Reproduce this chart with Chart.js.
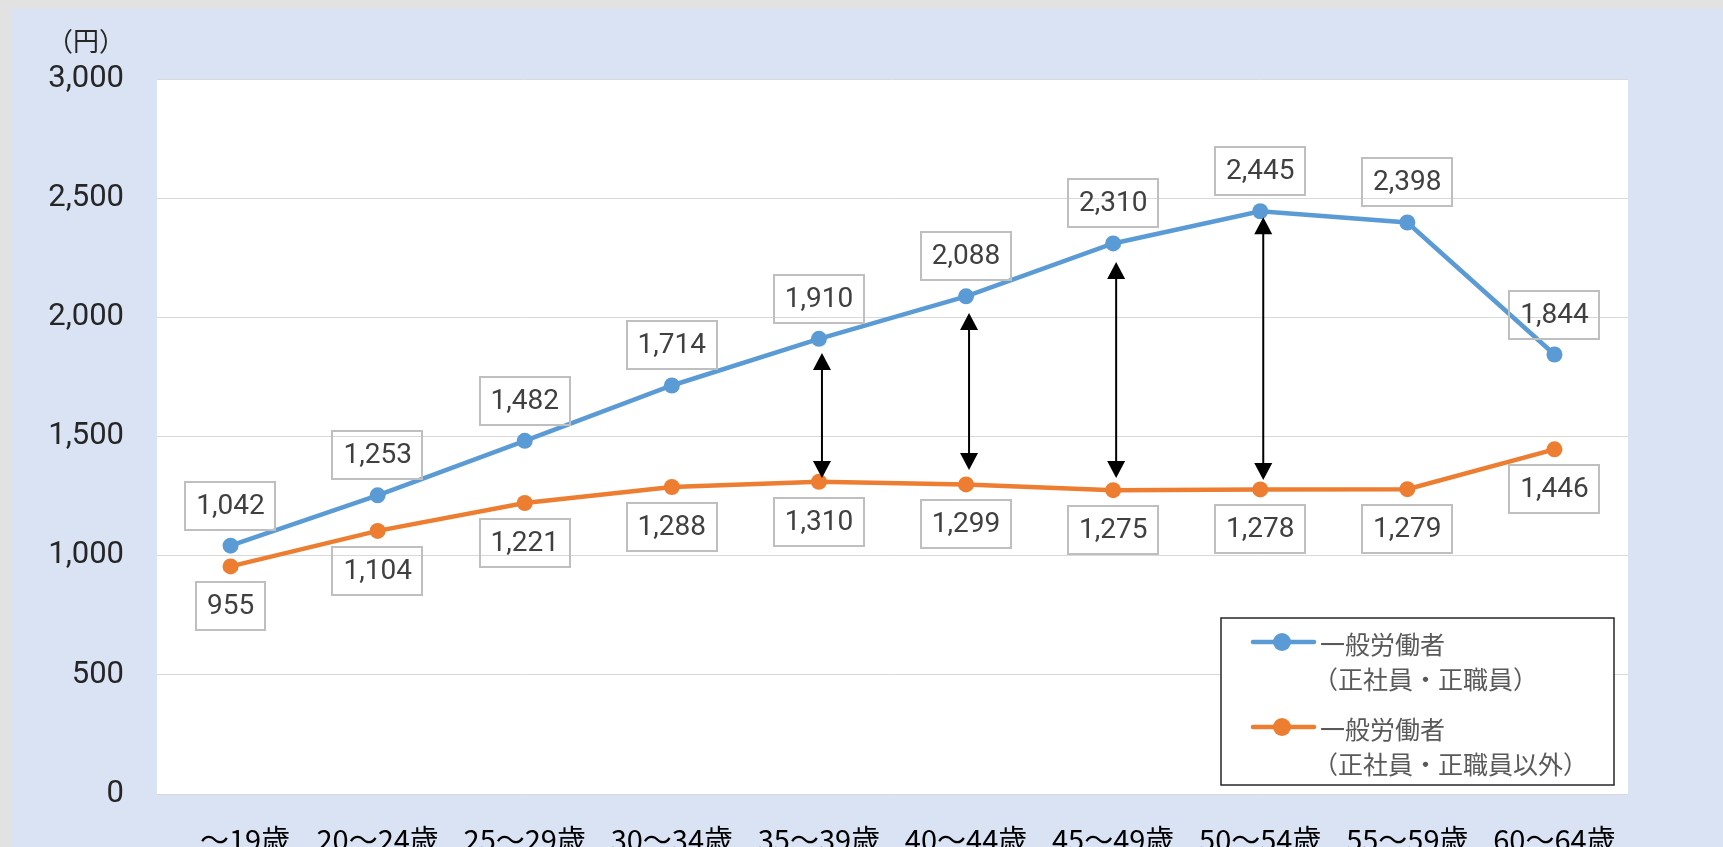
<!DOCTYPE html>
<html lang="ja">
<head>
<meta charset="utf-8">
<title>年齢階級別 賃金（時給換算）</title>
<script src="https://cdn.jsdelivr.net/npm/chart.js@4.4.1/dist/chart.umd.min.js"></script>
<style>
  html, body { margin: 0; padding: 0; background: #DAE3F3; }
  canvas { display: block; }
</style>
</head>
<body>
<canvas id="chart" width="1723" height="847"></canvas>
<script>
// 年齢階級（横軸）
const ageGroups = ['\u3000～19歳', '20～24歳', '25～29歳', '30～34歳', '35～39歳',
                   '40～44歳', '45～49歳', '50～54歳', '55～59歳', '60～64歳'];

// 一般労働者（正社員・正職員）
const regularWage = [1042, 1253, 1482, 1714, 1910, 2088, 2310, 2445, 2398, 1844];
// 一般労働者（正社員・正職員以外）
const nonRegularWage = [955, 1104, 1221, 1288, 1310, 1299, 1275, 1278, 1279, 1446];

// 系列名（凡例は2行表示）
const regularLabel = ['一般労働者', '（正社員・正職員）'];
const nonRegularLabel = ['一般労働者', '（正社員・正職員以外）'];

// 縦軸目盛
const yTicks = [0, 500, 1000, 1500, 2000, 2500, 3000];
const yUnit = '（円）';

// 賃金差を示す両矢印（対象の年齢階級と、上端・下端の値）
const gapIndex = [4, 5, 6, 7];
const gapTop = [1850, 2018, 2232, 2420];
const gapBottom = [1326, 1359, 1326, 1317];

const BLUE = '#5B9BD5';
const ORANGE = '#ED7D31';
const fmt = v => v.toLocaleString('en-US');

// 背景・プロットエリア
const backgroundPlugin = {
  id: 'panelBackground',
  beforeDraw(chart) {
    const { ctx, chartArea: a } = chart;
    ctx.save();
    ctx.fillStyle = '#E2E2E2';
    ctx.fillRect(0, 0, chart.width, chart.height);
    ctx.fillStyle = '#DAE3F3';
    ctx.fillRect(12, 9, chart.width - 12, chart.height - 9);
    ctx.fillStyle = '#FFFFFF';
    ctx.fillRect(a.left, a.top, a.right - a.left, a.bottom - a.top);
    ctx.restore();
  },
  afterDraw(chart) {
    const { ctx } = chart;
    ctx.save();
    ctx.fillStyle = '#262626';
    ctx.font = '26px "Noto Sans CJK JP"';
    ctx.textAlign = 'center';
    ctx.textBaseline = 'middle';
    ctx.fillText(yUnit, 86, 41);
    ctx.restore();
  }
};

// 両矢印
const gapArrowPlugin = {
  id: 'gapArrows',
  afterDatasetsDraw(chart) {
    const { ctx, scales: { x, y } } = chart;
    const headW = 18, headH = 17;
    ctx.save();
    ctx.fillStyle = '#000';
    ctx.strokeStyle = '#000';
    ctx.lineWidth = 2;
    gapIndex.forEach((idx, k) => {
      const px = x.getPixelForValue(idx) + 3;
      const yTop = y.getPixelForValue(gapTop[k]);
      const yBot = y.getPixelForValue(gapBottom[k]);
      ctx.beginPath();
      ctx.moveTo(px, yTop + headH - 1);
      ctx.lineTo(px, yBot - headH + 1);
      ctx.stroke();
      ctx.beginPath();
      ctx.moveTo(px, yTop);
      ctx.lineTo(px - headW / 2, yTop + headH);
      ctx.lineTo(px + headW / 2, yTop + headH);
      ctx.closePath();
      ctx.fill();
      ctx.beginPath();
      ctx.moveTo(px, yBot);
      ctx.lineTo(px - headW / 2, yBot - headH);
      ctx.lineTo(px + headW / 2, yBot - headH);
      ctx.closePath();
      ctx.fill();
    });
    ctx.restore();
  }
};

// 枠付きデータラベル（上の系列は点の上、下の系列は点の下）
const valueLabelPlugin = {
  id: 'valueLabels',
  afterDatasetsDraw(chart) {
    const { ctx } = chart;
    const boxH = 48, gap = 16, padX = 11;
    ctx.save();
    ctx.font = '28px Roboto';
    ctx.textAlign = 'center';
    ctx.textBaseline = 'middle';
    chart.data.datasets.forEach((ds, di) => {
      const meta = chart.getDatasetMeta(di);
      meta.data.forEach((pt, j) => {
        const text = fmt(ds.data[j]);
        const w = ctx.measureText(text).width + padX * 2;
        const cy = di === 0 ? pt.y - gap - boxH / 2 : pt.y + gap + boxH / 2;
        ctx.strokeStyle = '#BFBFBF';
        ctx.lineWidth = 2;
        ctx.strokeRect(Math.round(pt.x - w / 2), Math.round(cy - boxH / 2), Math.round(w), boxH);
        ctx.fillStyle = '#404040';
        ctx.fillText(text, pt.x, cy + 1);
      });
    });
    ctx.restore();
  }
};

// 凡例（枠付き・2行ラベル）
const legendBoxPlugin = {
  id: 'legendBox',
  afterDraw(chart) {
    const { ctx, chartArea: a } = chart;
    const w = 393, h = 167;
    const left = a.right - 14 - w, top = a.bottom - 9 - h;
    ctx.save();
    ctx.fillStyle = '#FFFFFF';
    ctx.fillRect(left, top, w, h);
    ctx.strokeStyle = '#262626';
    ctx.lineWidth = 1.5;
    ctx.strokeRect(left, top, w, h);
    const items = [
      { color: BLUE, lines: regularLabel, y: top + 24 },
      { color: ORANGE, lines: nonRegularLabel, y: top + 109 }
    ];
    ctx.font = '25px "Noto Sans CJK JP"';
    ctx.textBaseline = 'middle';
    ctx.textAlign = 'left';
    items.forEach(it => {
      ctx.strokeStyle = it.color;
      ctx.lineWidth = 4.5;
      ctx.lineCap = 'round';
      ctx.beginPath();
      ctx.moveTo(left + 32, it.y);
      ctx.lineTo(left + 93, it.y);
      ctx.stroke();
      ctx.fillStyle = it.color;
      ctx.beginPath();
      ctx.arc(left + 61, it.y, 9, 0, Math.PI * 2);
      ctx.fill();
      ctx.fillStyle = '#595959';
      ctx.fillText(it.lines[0], left + 99, it.y + 2);
      ctx.fillText(it.lines[1], left + 92, it.y + 37);
    });
    ctx.restore();
  }
};

new Chart(document.getElementById('chart'), {
  type: 'line',
  data: {
    labels: ageGroups,
    datasets: [
      {
        label: regularLabel.join(''),
        data: regularWage,
        borderColor: BLUE,
        backgroundColor: BLUE,
        borderWidth: 4.5,
        pointRadius: 8,
        pointHoverRadius: 8,
        pointBorderWidth: 0,
        pointBackgroundColor: BLUE,
        tension: 0,
        clip: false
      },
      {
        label: nonRegularLabel.join(''),
        data: nonRegularWage,
        borderColor: ORANGE,
        backgroundColor: ORANGE,
        borderWidth: 4.5,
        pointRadius: 8,
        pointHoverRadius: 8,
        pointBorderWidth: 0,
        pointBackgroundColor: ORANGE,
        tension: 0,
        clip: false
      }
    ]
  },
  options: {
    responsive: false,
    animation: false,
    devicePixelRatio: 1,
    layout: { padding: { top: 79, right: 95, bottom: 0, left: 0 } },
    plugins: {
      legend: { display: false },
      tooltip: { enabled: false }
    },
    scales: {
      x: {
        type: 'category',
        offset: true,
        grid: { display: false },
        border: { display: false },
        ticks: {
          autoSkip: false,
          maxRotation: 0,
          padding: 21,
          color: '#000000',
          font: { family: '"Noto Sans CJK JP"', size: 29 }
        },
        afterFit(scale) { scale.height = 53; }
      },
      y: {
        min: yTicks[0],
        max: yTicks[yTicks.length - 1],
        afterBuildTicks(scale) { scale.ticks = yTicks.map(v => ({ value: v })); },
        grid: { color: '#D9D9D9', lineWidth: 1, drawTicks: false },
        border: { display: false },
        ticks: {
          padding: 33,
          color: '#262626',
          font: { family: 'Roboto', size: 31 },
          callback: v => fmt(v)
        },
        afterFit(scale) { scale.width = 157; }
      }
    }
  },
  plugins: [backgroundPlugin, gapArrowPlugin, valueLabelPlugin, legendBoxPlugin]
});
</script>
</body>
</html>
